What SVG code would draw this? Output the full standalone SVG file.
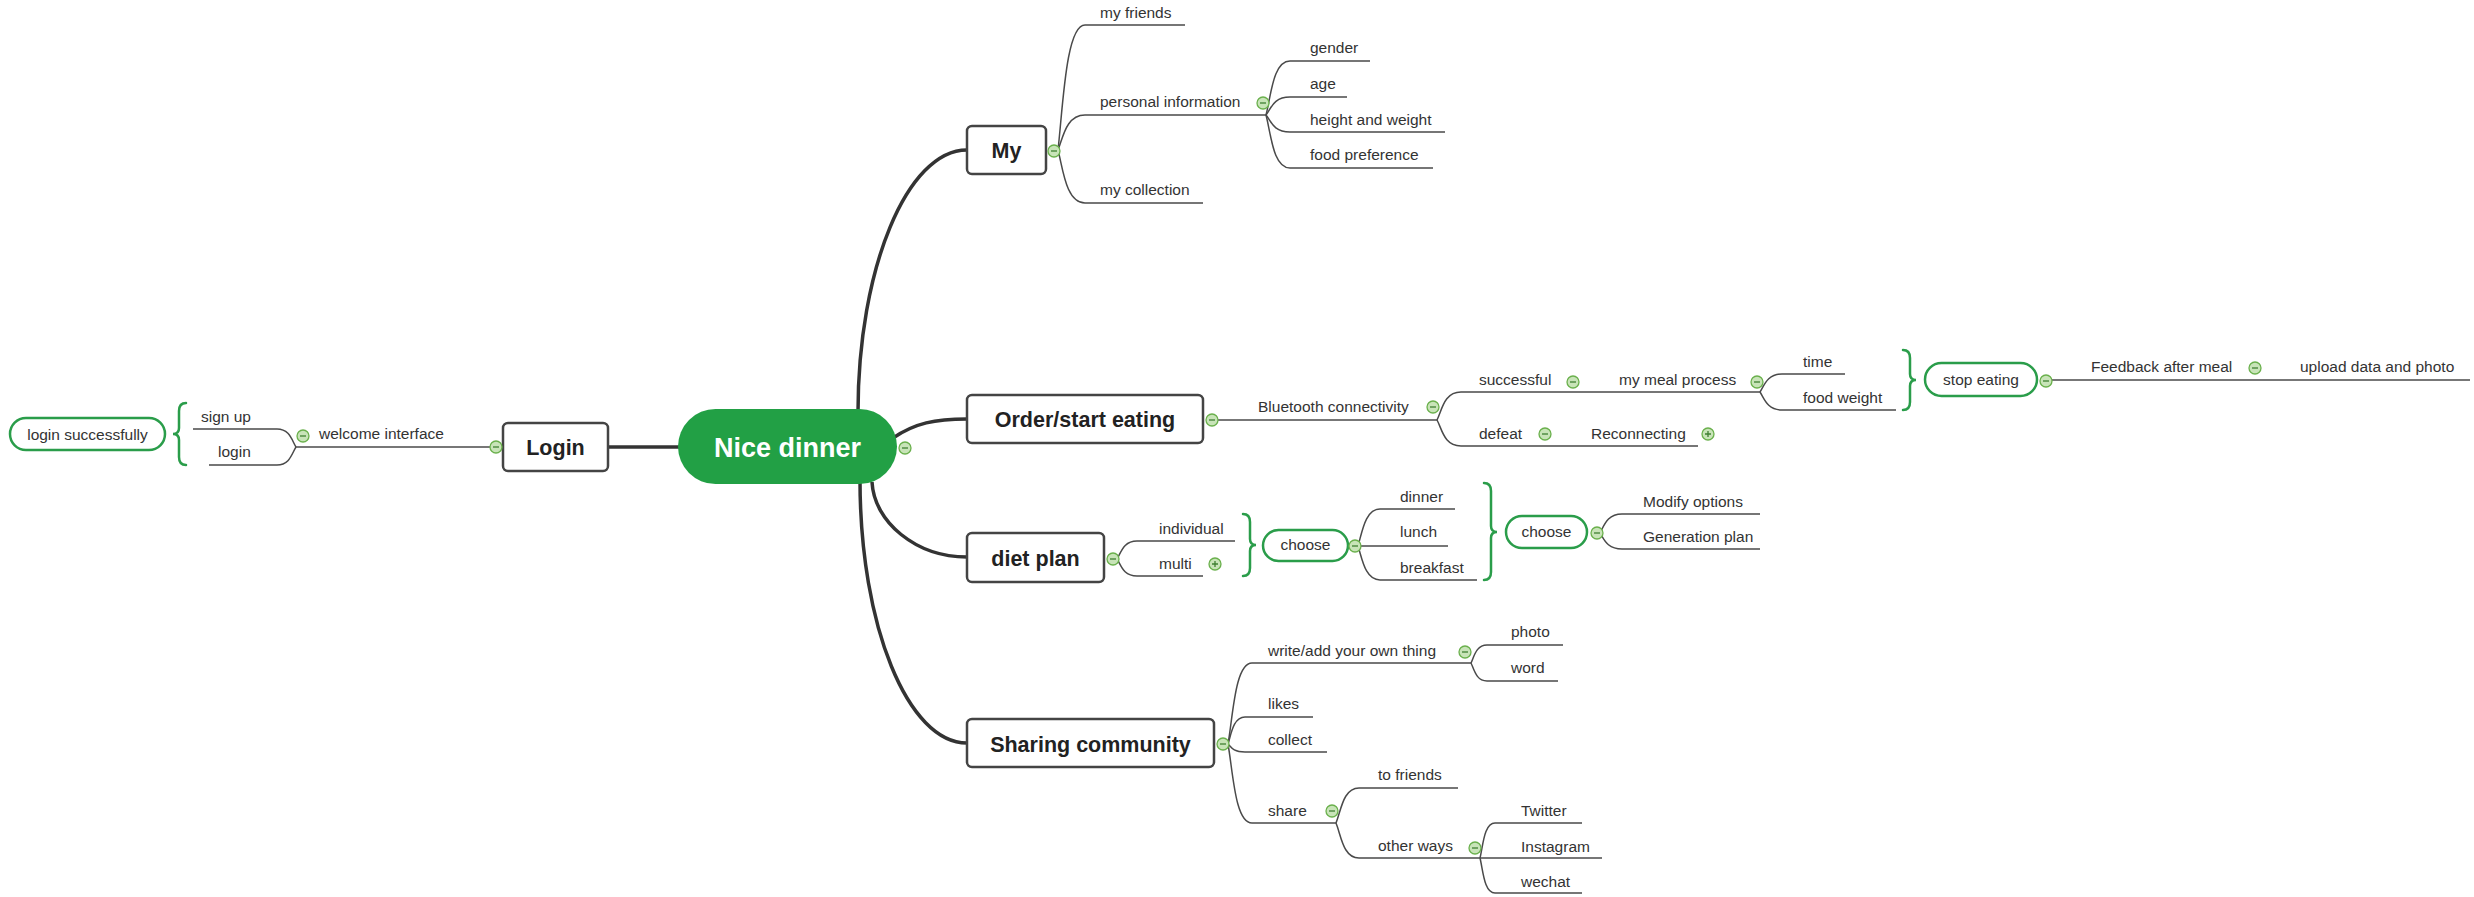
<svg xmlns="http://www.w3.org/2000/svg" xmlns:xlink="http://www.w3.org/1999/xlink" width="2474" height="897" viewBox="0 0 2474 897">
<style>
.t{font-family:"Liberation Sans",Arial,Helvetica,sans-serif;font-size:15.5px;fill:#333}
.c{text-anchor:middle}
.b{font-family:"Liberation Sans",Arial,Helvetica,sans-serif;font-weight:bold;font-size:21.5px;fill:#222;text-anchor:middle}
.box{fill:#fff;stroke:#444;stroke-width:2.5}
.pill{fill:#fff;stroke:#2a9d4a;stroke-width:2.5}
.brace{fill:none;stroke:#2a9d4a;stroke-width:2.5;stroke-linecap:round}
.main{fill:none;stroke:#333;stroke-width:3.5}
.thin{fill:none;stroke:#4a4a4a;stroke-width:1.5}
</style>
<defs>
<g id="m"><circle r="6" fill="#c8e4b8" stroke="#6ab04c" stroke-width="1.3"/><path d="M-3 0H3" stroke="#3f7f32" stroke-width="1.3"/></g>
<g id="p"><circle r="6" fill="#c8e4b8" stroke="#6ab04c" stroke-width="1.3"/><path d="M-3 0H3M0 -3V3" stroke="#3f7f32" stroke-width="1.3"/></g>
</defs>
<rect width="2474" height="897" fill="#fff"/>
<g id="connectors">
<path class="main" d="M608 447 H680"/>
<path class="main" d="M858 412 C858 269 907 150 967 150"/>
<path class="main" d="M893 438 C915 423 935 419 967 419"/>
<path class="main" d="M872 482 C874 522 916 557 967 557"/>
<path class="main" d="M860 480 C860 626 908 743 967 743"/>
<path class="thin" d="M296 447 H490"/>
<path class="thin" d="M296 447 C292 441 290 429 277 429 H193"/>
<path class="thin" d="M296 447 C292 453 290 465 277 465 H209"/>
<path class="thin" d="M1058 150 C1063 106 1066 25 1085 25 H1185"/>
<path class="thin" d="M1058 150 C1063 138 1066 115 1085 115 H1266"/>
<path class="thin" d="M1058 150 C1063 169 1066 203 1085 203 H1203"/>
<path class="thin" d="M1266 115 C1271 96 1273 61 1290 61 H1370"/>
<path class="thin" d="M1266 115 C1271 109 1273 97 1290 97 H1347"/>
<path class="thin" d="M1266 115 C1271 121 1273 132 1290 132 H1445"/>
<path class="thin" d="M1266 115 C1271 134 1273 168 1290 168 H1433"/>
<path class="thin" d="M1218 420 H1437"/>
<path class="thin" d="M1437 420 C1442 410 1444 392 1461 392 H1760"/>
<path class="thin" d="M1437 420 C1442 429 1444 446 1461 446 H1698"/>
<path class="thin" d="M1760 392 C1764 386 1767 374 1782 374 H1845"/>
<path class="thin" d="M1760 392 C1764 398 1767 410 1782 410 H1896"/>
<path class="thin" d="M2052 380 H2470"/>
<path class="thin" d="M1117 559 C1121 553 1123 541 1137 541 H1235"/>
<path class="thin" d="M1117 559 C1121 565 1123 576 1137 576 H1203"/>
<path class="thin" d="M1358 546 C1362 533 1365 509 1380 509 H1455"/>
<path class="thin" d="M1358 546 H1448"/>
<path class="thin" d="M1358 546 C1362 558 1365 580 1380 580 H1477"/>
<path class="thin" d="M1600 533 C1604 526 1607 514 1622 514 H1760"/>
<path class="thin" d="M1600 533 C1604 539 1607 549 1622 549 H1760"/>
<path class="thin" d="M1228 744 C1233 716 1235 663 1252 663 H1471"/>
<path class="thin" d="M1228 744 C1231 735 1233 717 1245 717 H1313"/>
<path class="thin" d="M1228 744 C1231 747 1233 752 1245 752 H1327"/>
<path class="thin" d="M1228 744 C1233 772 1235 823 1252 823 H1336"/>
<path class="thin" d="M1471 663 C1474 657 1476 645 1487 645 H1563"/>
<path class="thin" d="M1471 663 C1474 669 1476 681 1487 681 H1558"/>
<path class="thin" d="M1336 823 C1341 811 1343 788 1359 788 H1458"/>
<path class="thin" d="M1336 823 C1341 835 1343 858 1359 858 H1480"/>
<path class="thin" d="M1480 858 C1483 846 1484 823 1495 823 H1582"/>
<path class="thin" d="M1480 858 H1602"/>
<path class="thin" d="M1480 858 C1483 870 1484 893 1495 893 H1582"/>
<path class="brace" d="M186 403 Q179 403 179 411 L179 428 Q179 434 173 434 Q179 434 179 440 L179 457 Q179 465 186 465"/>
<path class="brace" d="M1903 350 Q1910 350 1910 358 L1910 374 Q1910 380 1916 380 Q1910 380 1910 386 L1910 402 Q1910 410 1903 410"/>
<path class="brace" d="M1243 514 Q1250 514 1250 522 L1250 539 Q1250 545 1256 545 Q1250 545 1250 551 L1250 568 Q1250 576 1243 576"/>
<path class="brace" d="M1484 483 Q1491 483 1491 491 L1491 526 Q1491 532 1497 532 Q1491 532 1491 538 L1491 572 Q1491 580 1484 580"/>
</g>
<g id="root">
<rect x="678" y="409" width="219" height="75" rx="37.5" fill="#22a045"/>
<text x="787.5" y="457" text-anchor="middle" font-family="Liberation Sans,Arial,sans-serif" font-weight="bold" font-size="27" fill="#fff">Nice dinner</text>
<use href="#m" x="905" y="448"/>
</g>
<g id="login"><rect class="box" x="503" y="423" width="105" height="48" rx="5"/><text class="b" x="555.5" y="455">Login</text><use href="#m" x="496" y="447"/></g>
<g id="welcome"><text class="t" x="319" y="439">welcome interface</text><use href="#m" x="303" y="436"/></g>
<g id="signup"><text class="t" x="201" y="422">sign up</text></g>
<g id="loginleaf"><text class="t" x="218" y="457">login</text></g>
<g id="loginsuccess"><rect class="pill" x="10" y="418" width="155" height="32" rx="16"/><text class="t c" x="87.5" y="440">login successfully</text></g>
<g id="my"><rect class="box" x="967" y="126" width="79" height="48" rx="5"/><text class="b" x="1006.5" y="158">My</text><use href="#m" x="1054" y="151"/></g>
<g id="myfriends"><text class="t" x="1100" y="18">my friends</text></g>
<g id="personal"><text class="t" x="1100" y="107">personal information</text><use href="#m" x="1263" y="103"/></g>
<g id="mycollection"><text class="t" x="1100" y="195">my collection</text></g>
<g id="gender"><text class="t" x="1310" y="53">gender</text></g>
<g id="age"><text class="t" x="1310" y="89">age</text></g>
<g id="hw"><text class="t" x="1310" y="125">height and weight</text></g>
<g id="foodpref"><text class="t" x="1310" y="160">food preference</text></g>
<g id="order"><rect class="box" x="967" y="395" width="236" height="48" rx="5"/><text class="b" x="1085" y="427">Order/start eating</text><use href="#m" x="1212" y="420"/></g>
<g id="bluetooth"><text class="t" x="1258" y="412">Bluetooth connectivity</text><use href="#m" x="1433" y="407"/></g>
<g id="successful"><text class="t" x="1479" y="385">successful</text><use href="#m" x="1573" y="382"/></g>
<g id="mealprocess"><text class="t" x="1619" y="385">my meal process</text><use href="#m" x="1757" y="382"/></g>
<g id="time"><text class="t" x="1803" y="367">time</text></g>
<g id="foodweight"><text class="t" x="1803" y="403">food weight</text></g>
<g id="defeat"><text class="t" x="1479" y="439">defeat</text><use href="#m" x="1545" y="434"/></g>
<g id="reconnecting"><text class="t" x="1591" y="439">Reconnecting</text><use href="#p" x="1708" y="434"/></g>
<g id="stopeating"><rect class="pill" x="1925" y="363" width="112" height="33" rx="16.5"/><text class="t c" x="1981" y="385">stop eating</text><use href="#m" x="2046" y="381"/></g>
<g id="feedback"><text class="t" x="2091" y="372">Feedback after meal</text><use href="#m" x="2255" y="368"/></g>
<g id="upload"><text class="t" x="2300" y="372">upload data and photo</text></g>
<g id="diet"><rect class="box" x="967" y="533" width="137" height="49" rx="5"/><text class="b" x="1035.5" y="566">diet plan</text><use href="#m" x="1113" y="559"/></g>
<g id="individual"><text class="t" x="1159" y="534">individual</text></g>
<g id="multi"><text class="t" x="1159" y="569">multi</text><use href="#p" x="1215" y="564"/></g>
<g id="choose1"><rect class="pill" x="1263" y="530" width="85" height="31" rx="15.5"/><text class="t c" x="1305.5" y="550">choose</text><use href="#m" x="1355" y="546"/></g>
<g id="dinner"><text class="t" x="1400" y="502">dinner</text></g>
<g id="lunch"><text class="t" x="1400" y="537">lunch</text></g>
<g id="breakfast"><text class="t" x="1400" y="573">breakfast</text></g>
<g id="choose2"><rect class="pill" x="1506" y="516" width="81" height="32" rx="16"/><text class="t c" x="1546.5" y="537">choose</text><use href="#m" x="1597" y="533"/></g>
<g id="modify"><text class="t" x="1643" y="507">Modify options</text></g>
<g id="generation"><text class="t" x="1643" y="542">Generation plan</text></g>
<g id="sharing"><rect class="box" x="967" y="719" width="247" height="48" rx="5"/><text class="b" x="1090.5" y="752">Sharing community</text><use href="#m" x="1223" y="744"/></g>
<g id="write"><text class="t" x="1268" y="656">write/add your own thing</text><use href="#m" x="1465" y="652"/></g>
<g id="photo"><text class="t" x="1511" y="637">photo</text></g>
<g id="word"><text class="t" x="1511" y="673">word</text></g>
<g id="likes"><text class="t" x="1268" y="709">likes</text></g>
<g id="collect"><text class="t" x="1268" y="745">collect</text></g>
<g id="share"><text class="t" x="1268" y="816">share</text><use href="#m" x="1332" y="811"/></g>
<g id="tofriends"><text class="t" x="1378" y="780">to friends</text></g>
<g id="otherways"><text class="t" x="1378" y="851">other ways</text><use href="#m" x="1475" y="848"/></g>
<g id="twitter"><text class="t" x="1521" y="816">Twitter</text></g>
<g id="instagram"><text class="t" x="1521" y="852">Instagram</text></g>
<g id="wechat"><text class="t" x="1521" y="887">wechat</text></g>
</svg>
